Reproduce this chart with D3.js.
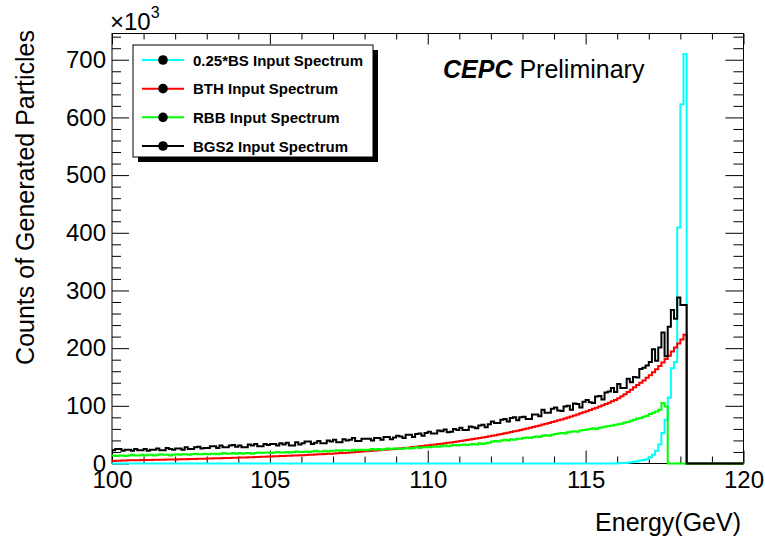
<!DOCTYPE html>
<html><head><meta charset="utf-8">
<script src="https://cdn.jsdelivr.net/npm/d3@7"></script>
<style>
body{margin:0;background:#fff}
svg{display:block}
text{font-family:"Liberation Sans",Arial,Helvetica,sans-serif;fill:#000}
</style>
</head><body>
<svg id="chart" width="765" height="542"></svg>
<script>
// ---------------- DATA (counts in units of 10^3, 0.1 GeV bins) ----------------
const binStart = 100, binEnd = 120, binWidth = 0.1;
const xMajorTicks = [100, 105, 110, 115, 120];
const yMajorTicks = [0, 100, 200, 300, 400, 500, 600, 700];
const seriesLabels = ["0.25*BS Input Spectrum", "BTH Input Spectrum", "RBB Input Spectrum", "BGS2 Input Spectrum"];
const seriesColors = ["#00ffff", "#ff0000", "#00ff00", "#000000"];

// 0.25*BS : first bin starts at 116.0 GeV (zero below)
const bsFirstBin = 116.0;
const bsValues = [0.5, 0.7, 1, 1.5, 2, 3, 4, 5, 6, 8,
                  11, 15, 22, 33, 53, 76, 114, 165, 176, 409,
                  623, 710];

// BTH : from 100.0 GeV
const bthFirstBin = 100.0;
const bthValues = [
 4.5,4.7,4.9,5.1,5.3,5.5,5.6,5.7,5.8,5.9,
 6.0,6.1,6.2,6.3,6.4,6.5,6.7,6.8,6.9,7.0,
 7.1,7.3,7.4,7.5,7.7,7.8,8.0,8.1,8.3,8.4,
 8.6,8.7,8.9,9.0,9.2,9.4,9.5,9.7,9.9,10.0,
 10.2,10.4,10.6,10.8,11.0,11.2,11.4,11.6,11.8,12.0,
 12.2,12.4,12.6,12.8,13.0,13.3,13.5,13.7,14.0,14.2,
 14.5,14.8,15.0,15.3,15.6,15.9,16.2,16.5,16.8,17.1,
 17.4,17.7,18.1,18.4,18.8,19.1,19.5,19.9,20.3,20.7,
 21.1,21.5,21.9,22.4,22.8,23.3,23.7,24.2,24.7,25.2,
 25.7,26.2,26.8,27.3,27.9,28.5,29.1,29.7,30.3,31.0,
 31.6,32.3,33.0,33.7,34.4,35.1,35.8,36.6,37.4,38.2,
 39.0,39.8,40.7,41.5,42.4,43.3,44.2,45.2,46.1,47.1,
 48.1,49.1,50.2,51.2,52.3,53.4,54.6,55.7,56.9,58.1,
 59.3,60.6,61.9,63.2,64.6,66.0,67.4,68.8,70.3,71.8,
 73.3,74.9,76.5,78.2,79.8,81.6,83.3,85.1,87.0,88.9,
 90.8,92.8,94.8,96.8,98.9,101.1,103.3,105.5,107.8,110.2,
 113,116.5,120,124,128,132,136,140,144,148.5,
 153,158,163.5,169,175,181,187,194,201,208,
 215,223];

// RBB : from 100.0 GeV
const rbbFirstBin = 100.0;
const rbbValues = [
 14,13,14,14,13,14,15,14,14,15,
 14,15,15,14,15,16,15,15,14,15,
 16,15,16,16,15,16,17,16,16,17,
 16,17,17,16,17,18,17,17,18,17,
 18,17,18,18,17,18,19,18,19,19,
 18,19,20,19,19,20,19,20,21,20,
 20,21,20,21,22,21,21,22,21,22,
 22,23,22,23,23,22,24,23,24,24,
 23,24,25,24,25,24,25,26,25,26,
 26,25,26,27,26,27,28,27,28,28,
 28,29,30,29,30,31,30,31,32,31,
 32,33,32,33,34,33,35,34,35,36,
 38,39,38,40,41,40,42,41,43,43,
 44,45,44,46,47,46,48,49,48,50,
 51,52,53,52,54,55,56,55,57,58,
 59,60,61,60,62,63,64,65,66,67,
 68,69,71,72,74,76,78,79,81,83,
 86,88,90,93,105,99];

// BGS2 : from 100.0 GeV
const bgs2FirstBin = 100.0;
const bgs2Values = [
 23,25,25,22,24,24,22,25,23,23,
 25,22,24,24,26,23,23,27,25,24,
 26,26,24,28,25,25,28,29,26,27,
 27,30,30,27,31,28,28,31,32,29,
 31,28,28,33,31,34,30,30,34,32,
 34,34,31,35,33,36,31,31,37,33,
 35,38,38,34,36,39,35,35,40,38,
 41,37,37,42,40,41,44,39,39,43,
 43,43,40,44,44,41,46,46,42,45,
 48,47,44,50,50,46,51,52,48,53,
 55,52,52,57,56,59,54,55,60,58,
 62,58,58,64,63,61,66,67,63,68,
 73,70,70,76,77,73,79,80,75,80,
 81,77,77,85,85,82,93,88,88,95,
 97,92,91,99,100,93,104,103,97,107,
 110,106,105,116,117,111,123,125,131,124,
 138,131,131,147,141,150,149,164,166,170,
 176,198,178,201,227,186,237,266,251,288,
 275,275];

const seriesData = [
  {values: bsValues, first: bsFirstBin},
  {values: bthValues, first: bthFirstBin},
  {values: rbbValues, first: rbbFirstBin},
  {values: bgs2Values, first: bgs2FirstBin}
];

// ---------------- LAYOUT ----------------
const frame = {left: 112, right: 743.5, top: 33.5, bottom: 463.5};
const svg = d3.select("#chart");

const x = d3.scaleLinear().domain([binStart, binEnd]).range([frame.left, frame.right]);
const y = d3.scaleLinear().domain([0, 745.5]).range([frame.bottom, frame.top]);

const xMinor = d3.range(binStart, binEnd + 0.001, 1).filter(v => !xMajorTicks.includes(v));
const yMinor = d3.range(0, 745, 20).filter(v => v % 100 !== 0);

function styleAxis(g) {
  g.select(".domain").remove();
  g.selectAll(".tick line").attr("stroke", "#000").attr("stroke-width", 1);
}

// bottom axis
svg.append("g").attr("transform", `translate(0,${frame.bottom})`)
  .call(d3.axisBottom(x).tickValues(xMajorTicks).tickSize(-13).tickPadding(7).tickFormat(d3.format("d")))
  .call(styleAxis)
  .call(g => g.selectAll("text").attr("font-size", 24).style("font-family", '"Liberation Sans",Arial,sans-serif').attr("fill", "#000"));
svg.append("g").attr("transform", `translate(0,${frame.bottom})`)
  .call(d3.axisBottom(x).tickValues(xMinor).tickSize(-7).tickFormat(""))
  .call(styleAxis);
// top axis
svg.append("g").attr("transform", `translate(0,${frame.top})`)
  .call(d3.axisTop(x).tickValues(xMajorTicks).tickSize(-11).tickFormat(""))
  .call(styleAxis);
svg.append("g").attr("transform", `translate(0,${frame.top})`)
  .call(d3.axisTop(x).tickValues(xMinor).tickSize(-6).tickFormat(""))
  .call(styleAxis);
// left axis
svg.append("g").attr("transform", `translate(${frame.left},0)`)
  .call(d3.axisLeft(y).tickValues(yMajorTicks).tickSize(-17).tickPadding(6).tickFormat(d3.format("d")))
  .call(styleAxis)
  .call(g => g.selectAll("text").attr("font-size", 24).style("font-family", '"Liberation Sans",Arial,sans-serif').attr("fill", "#000"));
svg.append("g").attr("transform", `translate(${frame.left},0)`)
  .call(d3.axisLeft(y).tickValues(yMinor).tickSize(-9).tickFormat(""))
  .call(styleAxis);
// right axis
svg.append("g").attr("transform", `translate(${frame.right},0)`)
  .call(d3.axisRight(y).tickValues(yMajorTicks).tickSize(-18).tickFormat(""))
  .call(styleAxis);
svg.append("g").attr("transform", `translate(${frame.right},0)`)
  .call(d3.axisRight(y).tickValues(yMinor).tickSize(-10).tickFormat(""))
  .call(styleAxis);

// frame
svg.append("rect")
  .attr("x", frame.left).attr("y", frame.top)
  .attr("width", frame.right - frame.left).attr("height", frame.bottom - frame.top)
  .attr("fill", "none").attr("stroke", "#000").attr("stroke-width", 1);

// ---------------- HISTOGRAMS ----------------
const nBins = Math.round((binEnd - binStart) / binWidth);
function histPath(s) {
  const full = new Array(nBins).fill(0);
  const off = Math.round((s.first - binStart) / binWidth);
  s.values.forEach((v, i) => { full[off + i] = v; });
  const p = d3.path();
  p.moveTo(x(binStart), y(full[0]));
  for (let i = 0; i < nBins; i++) {
    const xe = x(binStart + (i + 1) * binWidth);
    p.lineTo(xe, y(full[i]));
    if (i < nBins - 1) p.lineTo(xe, y(full[i + 1]));
  }
  return p.toString();
}
seriesData.forEach((s, k) => {
  svg.append("path")
    .attr("d", histPath(s))
    .attr("fill", "none")
    .attr("stroke", seriesColors[k])
    .attr("stroke-width", 2)
    .attr("stroke-linejoin", "miter");
});

// ---------------- TEXTS ----------------
const exp = svg.append("text").attr("x", 110).attr("y", 30).attr("font-size", 24);
exp.append("tspan").text("\u00d710");
exp.append("tspan").attr("font-size", 16).attr("dy", -12).text("3");

svg.append("text")
  .attr("transform", "translate(34,30) rotate(-90)")
  .attr("text-anchor", "end").attr("font-size", 25)
  .text("Counts of Generated Particles");

svg.append("text")
  .attr("x", 741).attr("y", 531)
  .attr("text-anchor", "end").attr("font-size", 25)
  .text("Energy(GeV)");

const cepc = svg.append("text").attr("x", 443).attr("y", 78).attr("font-size", 25);
cepc.append("tspan").attr("font-weight", "bold").attr("font-style", "italic").text("CEPC");
cepc.append("tspan").text(" Preliminary");

// ---------------- LEGEND ----------------
const lg = {x: 133, y: 45, w: 240, h: 112, shadow: 5};
svg.append("rect").attr("x", lg.x + lg.shadow).attr("y", lg.y + lg.shadow)
  .attr("width", lg.w).attr("height", lg.h).attr("fill", "#000");
svg.append("rect").attr("x", lg.x).attr("y", lg.y)
  .attr("width", lg.w).attr("height", lg.h).attr("fill", "#fff")
  .attr("stroke", "#000").attr("stroke-width", 1);
const entryY = d3.scalePoint().domain(seriesLabels).range([60, 146]);
seriesLabels.forEach((lab, k) => {
  const yy = entryY(lab);
  svg.append("line").attr("x1", 142).attr("x2", 184).attr("y1", yy).attr("y2", yy)
    .attr("stroke", seriesColors[k]).attr("stroke-width", 2);
  svg.append("circle").attr("cx", 163).attr("cy", yy).attr("r", 4.8).attr("fill", "#000");
  svg.append("text").attr("x", 193).attr("y", yy + 5.5)
    .attr("font-size", 15).attr("font-weight", "bold").text(lab);
});
</script>
</body></html>
